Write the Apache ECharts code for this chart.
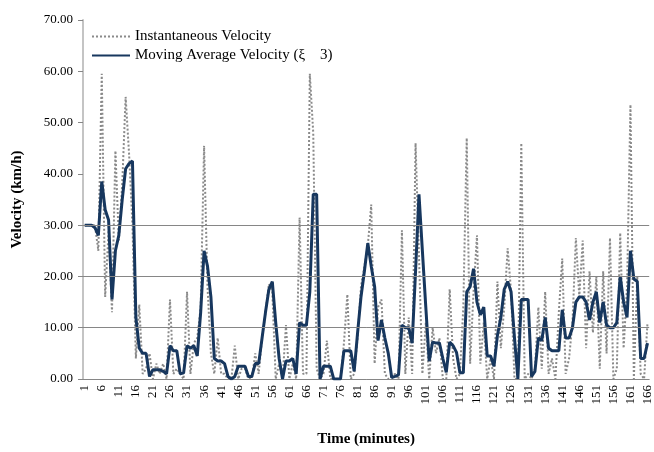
<!DOCTYPE html>
<html>
<head>
<meta charset="utf-8">
<script src="https://cdn.jsdelivr.net/npm/echarts@6/dist/echarts.min.js"></script>
<style>
  html, body { margin: 0; padding: 0; background: #fff; }
  #chart { width: 654px; height: 452px; }
</style>
</head>
<body>
<div id="chart"></div>
<script>
// minutes 1..166 on the category axis
var minutes = []
for (var m = 1; m <= 166; m++) minutes.push(String(m))

var instantVel = [
  30, 30, 30, 30, 25, 59.5, 16, 29, 13, 44.5,
  27, 38, 55, 44, 30, 4, 14.5, 1, 2, 5,
  0, 3, 1, 3, 0, 15.5, 1, 2, 1, 0,
  17, 1, 7, 8, 14, 45.5, 18, 5, 1, 8,
  1, 1, 0, 0, 6.5, 0, 2, 2, 0, 0,
  5, 1, 8, 13, 18.5, 17, 0, 3, 0, 10.5,
  0, 3, 0, 31.5, 1, 1, 59.5, 48, 2, 0,
  1, 7.5, 0, 0, 0, 0, 7, 16.5, 0, 1,
  8, 18, 22, 26, 34, 3, 14, 15.5, 1, 0,
  0.5, 1, 0, 29, 1, 12, 1, 46, 24, 1,
  11, 0, 10, 5, 8, 0, 0, 17.5, 4, 0,
  1, 14, 47, 3, 17, 28, 3, 11, 0, 4,
  0, 19, 6, 14, 25.5, 17, 0, 0, 46, 0,
  1, 0, 2, 14, 2, 17, 1, 4, 0, 13,
  23.5, 1, 4, 11, 27.5, 16, 27, 6, 21, 9,
  20, 2, 21, 5, 27.5, 0, 2, 28.5, 6, 18,
  53.5, 0, 20, 1, 0, 11
]

var movingAvgVel = [
  30, 30, 30, 29.5, 28, 38.5, 33, 31, 15.5, 25,
  28, 35, 41, 42, 42.5, 12, 6, 5, 5, 0.5,
  1.8, 1.8, 1.8, 1.5, 1, 6.5, 5.5, 5.5, 1, 1.2,
  6.5, 6, 6.5, 4.5, 13, 25, 22, 16, 4, 3.5,
  3.5, 3, 0.5, 0, 0.5, 2.5, 2.5, 2.5, 0.5, 0.5,
  3, 3, 8, 13, 17.5, 19, 11, 4, 0, 3.5,
  3.5, 4, 1, 11, 10.5, 10.5, 17, 36, 36, 0,
  2.5, 2.5, 2.5, 0, 0, 0, 5.5, 5.5, 5.5, 1.5,
  9, 16, 21, 26.5, 22, 18, 7.5, 11.5, 8, 5,
  0.3, 0.5, 0.8, 10.5, 10, 10, 7, 21, 36, 25,
  14, 3.5, 7.2, 7, 7, 4, 1.3, 7.2, 6.5, 5.2,
  1.2, 1.2, 17, 18, 21.5, 15, 12.5, 14, 4.5, 4.5,
  2.5, 8.5, 12, 17.5, 19, 17, 8, 0, 15.5, 15.5,
  15.5, 0.5, 1.5, 8, 7.5, 12, 6, 5.5, 5.5, 5.5,
  13.5, 8, 8, 10, 15, 16, 16, 15, 11.5, 15,
  17, 11, 15, 10.5, 10, 10, 11, 20, 15, 12,
  25, 19.5, 19, 4, 4, 7
]

// horizontal gridlines that show in the original
var gridLevels = [10, 20, 30]

var serif = 'Liberation Serif'

let chart = echarts.init(document.getElementById('chart'))
let option = {
  animation: false,
  backgroundColor: '#ffffff',
  grid: {
    left: 83,
    right: 2,
    top: 20,
    bottom: 66
  },
  legend: {
    orient: 'vertical',
    left: 86,
    top: 24,
    itemWidth: 38,
    itemHeight: 14,
    itemGap: 4,
    itemStyle: { opacity: 0 },
    data: ['Instantaneous Velocity', 'Moving Average Velocity (ξ    3)'],
    textStyle: {
      fontFamily: serif,
      fontSize: 15,
      color: '#000'
    }
  },
  xAxis: {
    type: 'category',
    data: minutes,
    boundaryGap: true,
    name: 'Time (minutes)',
    nameLocation: 'middle',
    nameGap: 53,
    nameTextStyle: {
      fontFamily: serif,
      fontWeight: 'bold',
      fontSize: 15,
      color: '#000'
    },
    axisLine: { lineStyle: { color: '#868686', width: 1 } },
    axisTick: { show: false },
    axisLabel: {
      interval: 4,
      rotate: 90,
      fontFamily: serif,
      fontSize: 13,
      color: '#000',
      margin: 6
    }
  },
  yAxis: {
    type: 'value',
    min: 0,
    max: 70,
    interval: 10,
    name: 'Velocity (km/h)',
    nameLocation: 'middle',
    nameGap: 58,
    nameTextStyle: {
      fontFamily: serif,
      fontWeight: 'bold',
      fontSize: 15,
      color: '#000'
    },
    axisLine: { show: true, lineStyle: { color: '#c4c4c4', width: 2 } },
    axisTick: { show: true, length: 5, lineStyle: { color: '#868686' } },
    splitLine: { show: false },
    axisLabel: {
      fontFamily: serif,
      fontSize: 13,
      color: '#000',
      margin: 10,
      formatter: function (v) { return v.toFixed(2) }
    }
  },
  series: [
    {
      // only carries the gridlines
      type: 'line',
      data: [],
      z: 1,
      silent: true,
      markLine: {
        silent: true,
        symbol: 'none',
        label: { show: false },
        lineStyle: { color: '#868686', width: 1, type: 'solid' },
        data: gridLevels.map(function (v) { return { yAxis: v } })
      }
    },
    {
      name: 'Instantaneous Velocity',
      type: 'line',
      data: instantVel,
      symbol: 'none',
      z: 2,
      lineStyle: { color: '#8a8a8a', width: 2, type: 'dotted' },
      itemStyle: { color: '#8a8a8a' }
    },
    {
      name: 'Moving Average Velocity (ξ    3)',
      type: 'line',
      data: movingAvgVel,
      symbol: 'none',
      z: 3,
      lineStyle: { color: '#17375e', width: 3 },
      itemStyle: { color: '#17375e' }
    }
  ]
}

chart.setOption(option)
</script>
</body>
</html>
